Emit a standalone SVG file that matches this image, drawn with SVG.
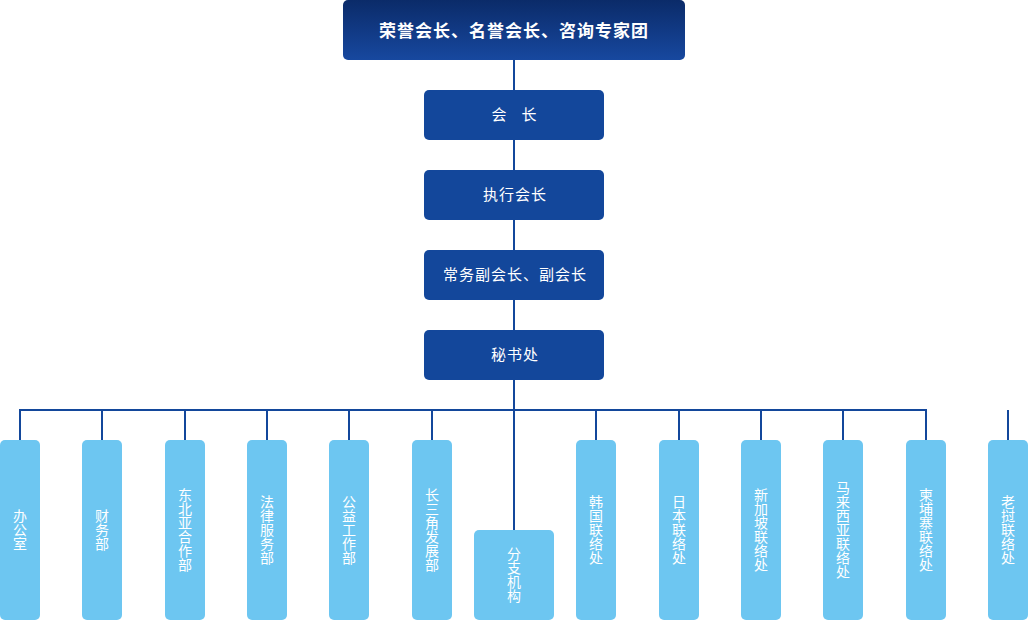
<svg xmlns="http://www.w3.org/2000/svg" width="1028" height="620" viewBox="0 0 1028 620">
<defs>
<linearGradient id="topg" x1="0" y1="0" x2="0" y2="1">
<stop offset="0" stop-color="#0b2b69"/>
<stop offset="1" stop-color="#17489f"/>
</linearGradient>
</defs>
<style>
.t{font-family:"Noto Sans CJK SC","Noto Sans",sans-serif;fill:#fff;text-anchor:middle}
.mid{fill:#13479b}
.sub{fill:#6dc6f1}
.ln{stroke:#13479b;stroke-width:2;fill:none}
.v{font-size:14px;writing-mode:vertical-rl;text-orientation:upright}
.m{font-size:15px;letter-spacing:1px}
</style>
<rect width="1028" height="620" fill="#fff"/>
<g id="connectors">
<line class="ln" x1="514" y1="60" x2="514" y2="530"/>
<polyline class="ln" points="20,440 20,410 926,410 926,440"/>
<line class="ln" x1="102" y1="410" x2="102" y2="440"/>
<line class="ln" x1="185" y1="410" x2="185" y2="440"/>
<line class="ln" x1="267" y1="410" x2="267" y2="440"/>
<line class="ln" x1="349" y1="410" x2="349" y2="440"/>
<line class="ln" x1="432" y1="410" x2="432" y2="440"/>
<line class="ln" x1="596" y1="410" x2="596" y2="440"/>
<line class="ln" x1="679" y1="410" x2="679" y2="440"/>
<line class="ln" x1="761" y1="410" x2="761" y2="440"/>
<line class="ln" x1="843" y1="410" x2="843" y2="440"/>
<line class="ln" x1="1008" y1="410" x2="1008" y2="440"/>
</g>
<g id="top">
<rect x="343" y="0" width="342" height="60" rx="5" fill="url(#topg)"/>
<text class="t" x="514" y="37" font-size="17" font-weight="bold" letter-spacing="1">荣誉会长、名誉会长、咨询专家团</text>
</g>
<g id="president">
<rect class="mid" x="424" y="90" width="180" height="50" rx="5"/>
<text class="t" x="514" y="120" font-size="15">会　长</text>
</g>
<g id="exec">
<rect class="mid" x="424" y="170" width="180" height="50" rx="5"/>
<text class="t m" x="515" y="200">执行会长</text>
</g>
<g id="vice">
<rect class="mid" x="424" y="250" width="180" height="50" rx="5"/>
<text class="t m" x="515" y="280">常务副会长、副会长</text>
</g>
<g id="secretariat">
<rect class="mid" x="424" y="330" width="180" height="50" rx="5"/>
<text class="t m" x="515" y="360">秘书处</text>
</g>
<g id="n1"><rect class="sub" x="0" y="440" width="40" height="180" rx="5"/>
<text class="t v" x="20" y="530">办公室</text></g>
<g id="n2"><rect class="sub" x="82" y="440" width="40" height="180" rx="5"/>
<text class="t v" x="102" y="530">财务部</text></g>
<g id="n3"><rect class="sub" x="165" y="440" width="40" height="180" rx="5"/>
<text class="t v" x="185" y="530">东北亚合作部</text></g>
<g id="n4"><rect class="sub" x="247" y="440" width="40" height="180" rx="5"/>
<text class="t v" x="267" y="530">法律服务部</text></g>
<g id="n5"><rect class="sub" x="329" y="440" width="40" height="180" rx="5"/>
<text class="t v" x="349" y="530">公益工作部</text></g>
<g id="n6"><rect class="sub" x="412" y="440" width="40" height="180" rx="5"/>
<text class="t v" x="432" y="530">长三角发展部</text></g>
<g id="n7"><rect class="sub" x="474" y="530" width="80" height="90" rx="5"/>
<text class="t v" x="514" y="575">分支机构</text></g>
<g id="n8"><rect class="sub" x="576" y="440" width="40" height="180" rx="5"/>
<text class="t v" x="596" y="530">韩国联络处</text></g>
<g id="n9"><rect class="sub" x="659" y="440" width="40" height="180" rx="5"/>
<text class="t v" x="679" y="530">日本联络处</text></g>
<g id="n10"><rect class="sub" x="741" y="440" width="40" height="180" rx="5"/>
<text class="t v" x="761" y="530">新加坡联络处</text></g>
<g id="n11"><rect class="sub" x="823" y="440" width="40" height="180" rx="5"/>
<text class="t v" x="843" y="530">马来西亚联络处</text></g>
<g id="n12"><rect class="sub" x="906" y="440" width="40" height="180" rx="5"/>
<text class="t v" x="926" y="530">柬埔寨联络处</text></g>
<g id="n13"><rect class="sub" x="988" y="440" width="40" height="180" rx="5"/>
<text class="t v" x="1008" y="530">老挝联络处</text></g>
</svg>
